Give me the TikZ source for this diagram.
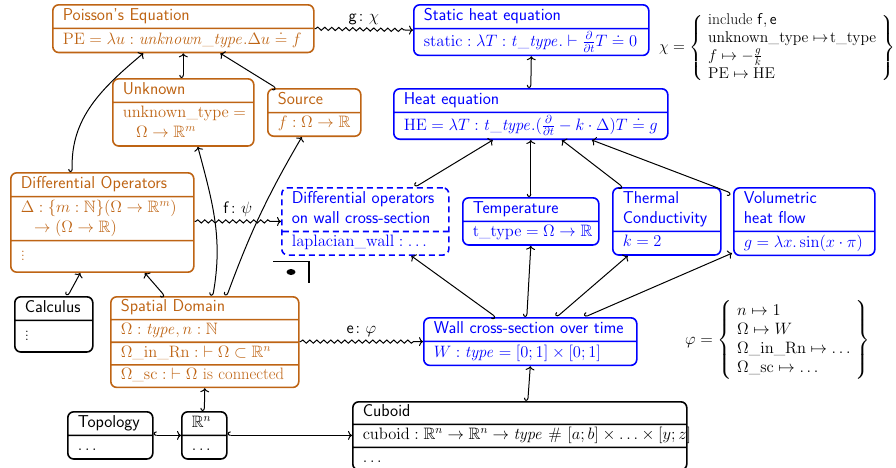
\RequirePackage{fix-cm}
\documentclass[tikz,border=0pt]{standalone}
\usepackage{amsmath,amssymb}
\DeclareFontFamily{U}{msb}{}
\DeclareFontShape{U}{msb}{m}{n}{<-6> msbm5 <6-8> msbm7 <8-> msbm10}{}
\usetikzlibrary{shapes.multipart,decorations.pathmorphing,arrows.meta}
\definecolor{ocol}{RGB}{190,100,20}
\newcommand{\bodyfont}{\fontsize{16.5}{20}\selectfont}
\newcommand{\mapfont}{\fontsize{15.6}{19.3}\selectfont}
\newcommand{\ttl}[1]{{\fontsize{17.2}{20}\selectfont\sffamily #1}}
\newcommand{\st}{\rule[-5pt]{0pt}{17pt}}
\newcommand{\stv}{\rule[-8pt]{0pt}{25pt}}
\newcommand{\mm}[1]{\mbox{$#1$}}
\tikzset{
  mbox/.style={rectangle split, rectangle split parts=2, draw, line width=1.6pt,
    rounded corners=6pt, inner xsep=10pt, inner ysep=2.5pt, align=left,
    anchor=north west, font=\bodyfont},
  orb/.style={mbox, draw=ocol, text=ocol},
  blb/.style={mbox, draw=blue, text=blue},
  bkb/.style={mbox, draw=black, text=black},
  link/.style={{Hooks[right,length=3pt,width=8pt]}-{To[length=4pt,width=9pt]}, line width=1pt},
  morph/.style={-{To[length=4pt,width=9pt]}, line width=1pt, decorate,
    decoration={snake, amplitude=1.6pt, segment length=7pt, pre length=1pt, post length=8pt}},
  lbl/.style={font=\bodyfont, inner sep=1pt},
}
\begin{document}
\begin{tikzpicture}[x=1pt,y=-1pt]
\useasboundingbox (0,0) rectangle (896,467);
% top row
\node[orb, text width=241pt] (poisson) at (52,4)
  {\st\ttl{Poisson's Equation}\nodepart{two}\st\mm{\mathrm{PE} = \lambda u : \mathit{unknown\_type}.\Delta u \doteq f}};
\node[blb, text width=215pt] (static) at (413,4)
  {\st\ttl{Static heat equation}\nodepart{two}\st\mm{\mathrm{static} : \lambda T : \mathit{t\_type}.\vdash \frac{\partial}{\partial t} T \doteq 0}};
\node[lbl, anchor=west, font=\mapfont] (chi) at (658,48)
  {$\delimitershortfall=16pt\chi = \renewcommand{\arraystretch}{0.93}\left\{\begin{array}{l}
     \text{include }\mathsf{f},\mathsf{e}\\
     \mathrm{unknown\_type}\mapsto\!\mathrm{t\_type}\\
     f\mapsto -\frac{g}{k}\\
     \mathrm{PE}\mapsto\mathrm{HE}
   \end{array}\right\}$};
% second row
\node[orb, text width=121pt] (unknown) at (112,78)
  {\st\ttl{Unknown}\nodepart{two}\st\mm{\mathrm{unknown\_type} =}\\\hspace*{0.8em}\mm{\Omega\to\mathbb{R}^m}\st};
\node[orb, text width=73pt] (source) at (267,88)
  {\st\ttl{Source}\nodepart{two}\st\mm{f : \Omega\to\mathbb{R}}};
\node[blb, text width=254pt] (heat) at (393,88)
  {\st\ttl{Heat equation}\nodepart{two}\st\mm{\mathrm{HE} = \lambda T : \mathit{t\_type}.(\frac{\partial}{\partial t} - k\cdot\Delta)T \doteq g}};
% third row
\node[orb, rectangle split parts=3, text width=163pt] (diffop) at (10,172)
  {\st\ttl{Differential Operators}\nodepart{two}\st\mm{\Delta : \{m : \mathbb{N}\}(\Omega\to\mathbb{R}^m)}\\\hspace*{0.8em}\mm{\to(\Omega\to\mathbb{R})}\st\nodepart{three}\stv$\vdots$};
\node[blb, dash pattern=on 6pt off 4pt, text width=147pt] (dowall) at (281,187)
  {\st\ttl{Differential operators}\\\ttl{on wall cross-section}\st\nodepart{two}\st\mm{\mathrm{laplacian\_wall} : \ldots}};
\node[blb, text width=116pt] (temp) at (462,197)
  {\st\ttl{Temperature}\nodepart{two}\st\mm{\mathrm{t\_type} = \Omega\to\mathbb{R}}};
\node[blb, text width=88pt] (thermal) at (612,187)
  {\st\ttl{Thermal}\\\ttl{Conductivity}\st\nodepart{two}\st\mm{k = 2}};
\node[blb, text width=121pt] (volum) at (733,187)
  {\st\ttl{Volumetric}\\\ttl{heat flow}\st\nodepart{two}\st\mm{g = \lambda x.\sin(x\cdot\pi)}};
% symbol
\draw[line width=1.6pt] (273,261.5) -| (309,283);
\fill (291,272) ellipse (4.5 and 3);
% fourth row
\node[bkb, text width=58pt] (calculus) at (14,296)
  {\st\ttl{Calculus}\nodepart{two}\stv$\vdots$};
\node[orb, rectangle split parts=4, inner ysep=2pt, text width=168pt] (spatial) at (110,296)
  {\st\ttl{Spatial Domain}\nodepart{two}\st\mm{\Omega : \mathit{type}, n : \mathbb{N}}\nodepart{three}\st\mm{\mathrm{\Omega\_in\_Rn} :\;\vdash \Omega\subset\mathbb{R}^n}\nodepart{four}\st\mm{\Omega\mathrm{\_sc} :\;\vdash \Omega\text{ is connected}}};
\node[blb, text width=193pt] (wall) at (423,317)
  {\st\ttl{Wall cross-section over time}\nodepart{two}\st\mm{W : \mathit{type} = [0;1]\times[0;1]}};
\node[lbl, anchor=west] (phi) at (684,340)
  {$\varphi = \renewcommand{\arraystretch}{0.95}\left\{\begin{array}{l}
     n\mapsto 1\\
     \Omega\mapsto W\\
     \mathrm{\Omega\_in\_Rn}\mapsto\ldots\\
     \Omega\mathrm{\_sc}\mapsto\ldots
   \end{array}\right\}$};
% bottom row
\node[bkb, text width=65pt] (topology) at (67,411)
  {\st\ttl{Topology}\nodepart{two}\st$\ldots$};
\node[bkb, text width=25pt] (rn) at (181,411)
  {\st$\mathbb{R}^n$\nodepart{two}\st$\ldots$};
\node[bkb, rectangle split parts=3, inner ysep=2pt, text width=314pt] (cuboid) at (352,401)
  {\st\ttl{Cuboid}\nodepart{two}\st\mm{\mathrm{cuboid} : \mathbb{R}^n\to\mathbb{R}^n\to\mathit{type}\ \#\ [a;b]\times\ldots\times[y;z]}\nodepart{three}\st$\ldots$};
% connectors
\draw[link] (unknown.north) -- (poisson.south);
\draw[link] ([xshift=-38pt]source.north) -- ([xshift=37pt]poisson.south);
\draw[link] ([xshift=-30pt]diffop.north) to[out=92,in=-140] ([xshift=-40pt]poisson.south);
\draw[link] ([xshift=8pt]spatial.north) to[out=80,in=-75] ([xshift=14.5pt]unknown.south);
\draw[link] ([xshift=22pt]spatial.north) to[bend left=5] ([xshift=-12.5pt]source.south);
\draw[link] ([xshift=-40pt]spatial.north) -- ([xshift=42.5pt]diffop.south);
\draw[link] ([xshift=14pt]calculus.north) -- ([xshift=-22pt]diffop.south);
\draw[morph] (diffop.east |- dowall.west) -- (dowall.west) node[lbl, midway, above=3pt] {$\mathsf{f}\colon\psi$};
\draw[morph] (poisson.east) -- (static.west) node[lbl, midway, above=3pt] {$\mathsf{g}\colon\chi$};
\draw[morph] (spatial.east |- wall.west) -- (wall.west) node[lbl, midway, above=3pt] {$\mathsf{e}\colon\varphi$};
\draw[link] (heat.north) -- (static.south);
\draw[link] ([xshift=50pt]dowall.north) -- ([xshift=-38pt]heat.south);
\draw[link] (temp.north) -- (heat.south);
\draw[link] ([xshift=-44pt]thermal.north) -- ([xshift=31pt]heat.south);
\draw[link] ([xshift=-2pt,yshift=-6pt]volum.north west) -- ([xshift=61pt]heat.south);
\draw[link] ([xshift=-34.5pt]wall.north) -- ([xshift=46pt]dowall.south);
\draw[link] ([xshift=-3.5pt]wall.north) -- (temp.south);
\draw[link] ([xshift=26.5pt]wall.north) -- ([xshift=-39pt]thermal.south);
\draw[link] ([xshift=54.5pt]wall.north) -- ([xshift=-1pt,yshift=3pt]volum.south west);
\draw[link] ([xshift=8pt]cuboid.north) -- (wall.south);
\draw[link] (rn.north) -- (spatial.south);
\draw[link] (topology.east) -- (rn.west);
\draw[link] (rn.east) -- (rn.east -| cuboid.west);
\end{tikzpicture}
\end{document}
